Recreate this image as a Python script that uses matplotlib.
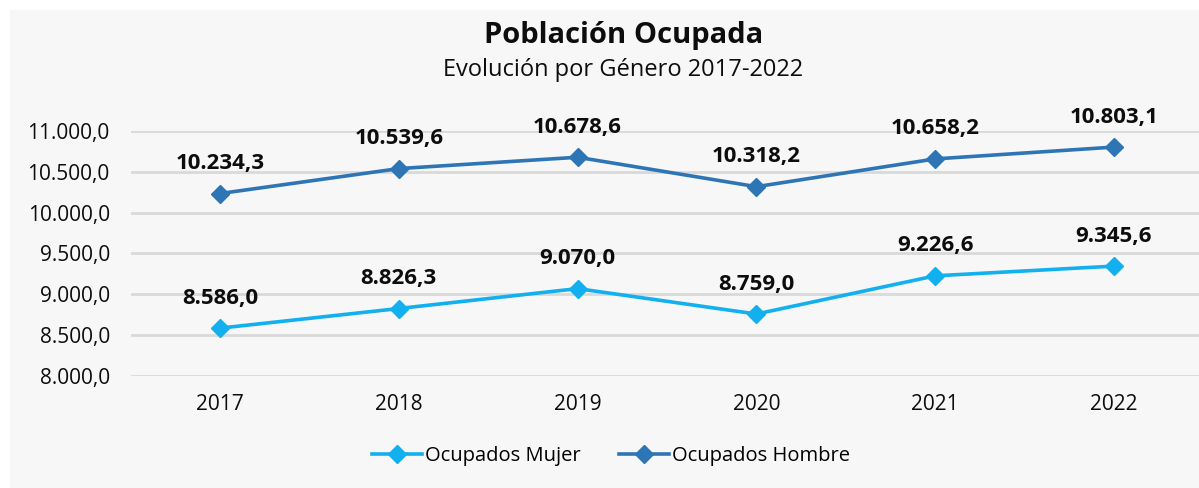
import matplotlib.pyplot as plt
from matplotlib.ticker import FuncFormatter

years = ["2017", "2018", "2019", "2020", "2021", "2022"]
mujer = [8586.0, 8826.3, 9070.0, 8759.0, 9226.6, 9345.6]
hombre = [10234.3, 10539.6, 10678.6, 10318.2, 10658.2, 10803.1]
yticks = [8000, 8500, 9000, 9500, 10000, 10500, 11000]


def es_fmt(v, decimals=1):
    s = f"{v:,.{decimals}f}"
    return s.replace(",", "X").replace(".", ",").replace("X", ".")


plt.rcParams['font.family'] = ['Open Sans', 'DejaVu Sans']

fig = plt.figure(figsize=[11.99, 4.88], dpi=100)
fig.patch.set_facecolor("white")
# light gray panel with a thin white margin top/left
bg = plt.Rectangle((10 / 1199, 0), 1, 1 - 10 / 488, transform=fig.transFigure,
                   facecolor="#f7f7f7", edgecolor="none", zorder=-10)
fig.patches.append(bg)

ax = fig.add_axes([130.6 / 1199, 112 / 488, 1072.8 / 1199, 245 / 488])
ax.set_facecolor("none")

x = list(range(len(years)))
c_m = "#12b0ee"
c_h = "#2e75b6"
ax.plot(x, mujer, color=c_m, lw=2.6, marker="D", ms=9.5, label="Ocupados Mujer", zorder=3)
ax.plot(x, hombre, color=c_h, lw=2.6, marker="D", ms=9.5, label="Ocupados Hombre", zorder=3)

for xi, v in zip(x, mujer):
    ax.annotate(es_fmt(v), (xi, v), xytext=(0, 14), textcoords="offset points",
                ha="center", va="bottom", fontsize=16, fontweight="bold", color="#0d0d0d")
for xi, v in zip(x, hombre):
    ax.annotate(es_fmt(v), (xi, v), xytext=(0, 14), textcoords="offset points",
                ha="center", va="bottom", fontsize=16, fontweight="bold", color="#0d0d0d")

ax.set_xlim(-0.5, 5.5)
ax.set_ylim(8000, 11000)
ax.set_xticks(x)
ax.set_xticklabels(years)
ax.set_yticks(yticks)
ax.yaxis.set_major_formatter(FuncFormatter(lambda v, p: es_fmt(v)))
ax.tick_params(axis="both", length=0, labelsize=15, colors="#0d0d0d")
ax.tick_params(axis="y", pad=15)
ax.tick_params(axis="x", pad=13)
ax.grid(axis="y", color="#d9d9d9", lw=2)
ax.set_axisbelow(True)
for s in ax.spines.values():
    s.set_visible(False)

fig.text(624 / 1199, 1 - 35 / 488, "Población Ocupada", ha="center", va="center",
         fontsize=21, fontweight="bold", color="#0d0d0d")
fig.text(623 / 1199, 1 - 70 / 488, "Evolución por Género 2017-2022", ha="center", va="center",
         fontsize=17, color="#0d0d0d")

fig.legend(loc="center", bbox_to_anchor=(611 / 1199, 1 - 456 / 488), ncol=2, frameon=False,
           fontsize=14.5, handlelength=2.5, handletextpad=0.15, columnspacing=1.9)

plt.savefig("out.png", dpi=100)
